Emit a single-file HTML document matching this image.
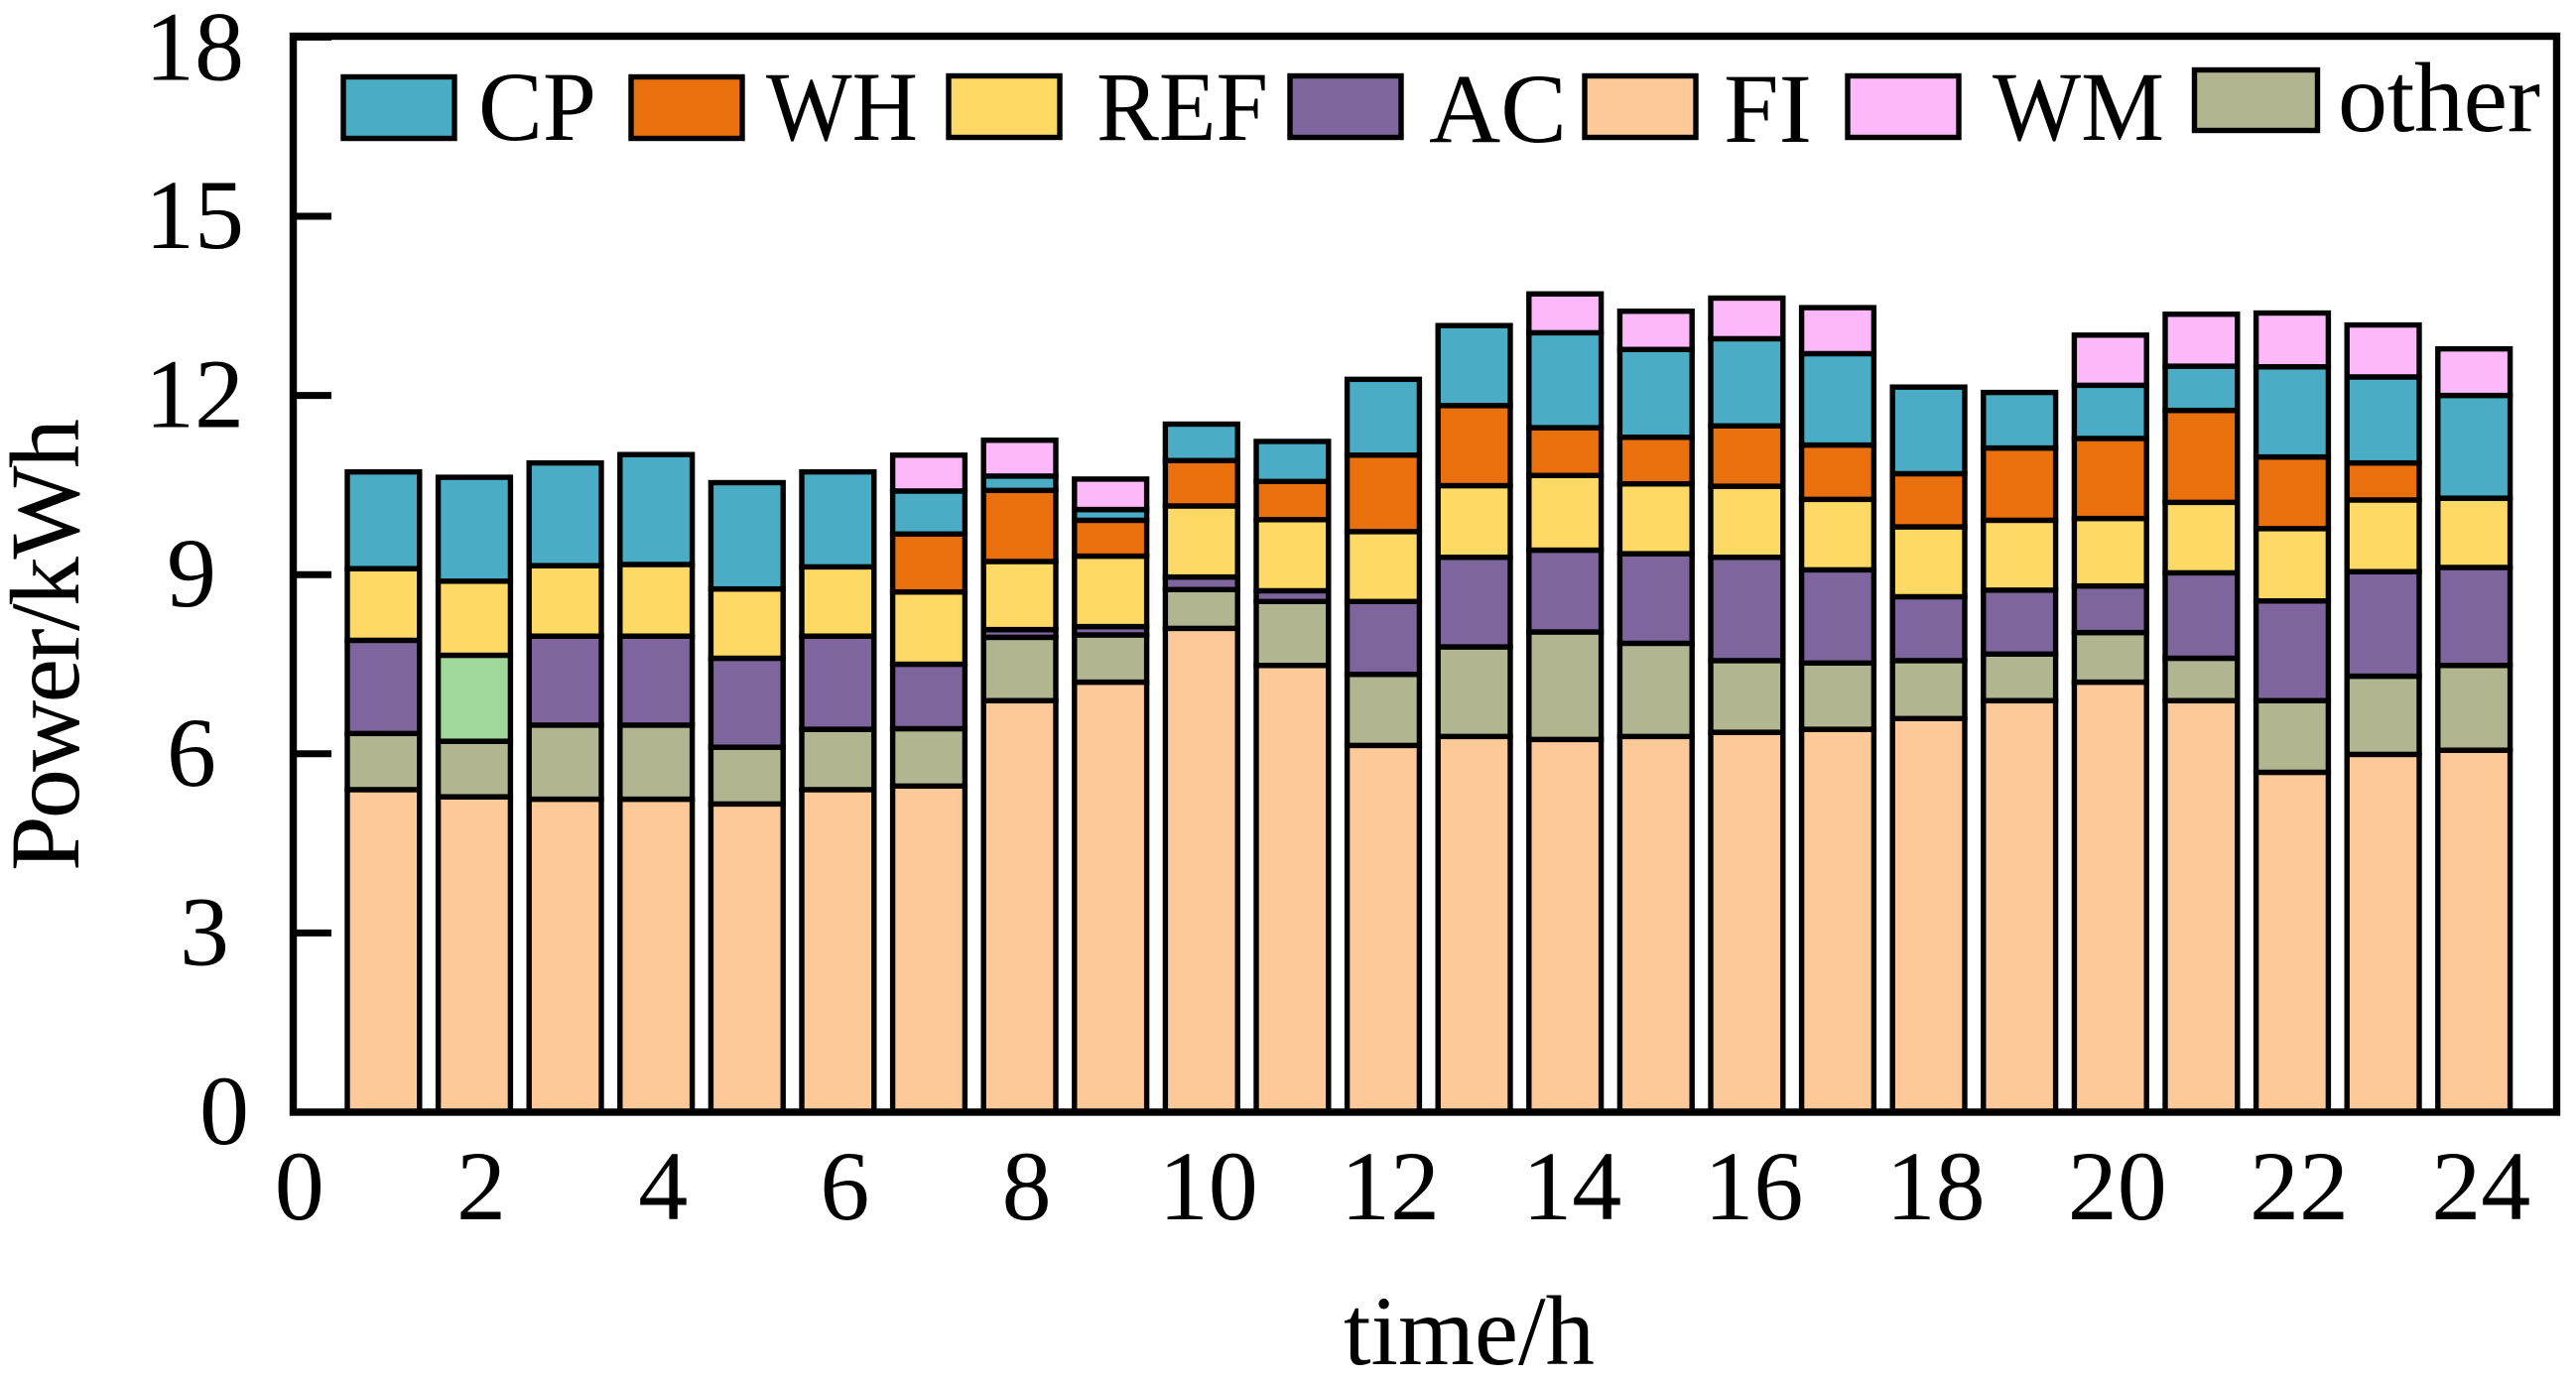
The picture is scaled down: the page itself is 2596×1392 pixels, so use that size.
<!DOCTYPE html>
<html lang="en">
<head>
<meta charset="utf-8">
<title>Power by appliance per hour</title>
<style>
  html, body { margin: 0; padding: 0; background: #fff; }
  svg { display: block; }
  text { font-family: "Liberation Serif", serif; font-size: 100px; fill: #000; }
  .seg, .key { stroke: #000; stroke-width: 5.4; }
  .s-FI { fill: #FDC998; }
  .s-other { fill: #B1B590; }
  .s-AC { fill: #7F659E; }
  .s-REF { fill: #FFD966; }
  .s-WH { fill: #EA700D; }
  .s-CP { fill: #4BACC6; }
  .s-WM { fill: #FDB8F9; }
  .s-highlight { fill: #9FD89B; }
</style>
</head>
<body>
<svg id="chart" xmlns="http://www.w3.org/2000/svg" width="2596" height="1392" viewBox="0 0 2596 1392">
  <rect x="0" y="0" width="2596" height="1392" fill="#fff"/>
  <g id="bars"></g>
  <rect x="295.5" y="36.5" width="2281" height="1084.5" fill="none" stroke="#000" stroke-width="7.4"/>
  <g id="y-ticks"></g>
  <g id="x-ticks"></g>
  <text transform="translate(79 878) rotate(-90)" textLength="456" lengthAdjust="spacing">Power/kWh</text>
  <text x="1354" y="1375" textLength="253" lengthAdjust="spacingAndGlyphs">time/h</text>
  <g>
    <g>
      <rect class="key s-CP" x="346" y="77.5" width="112" height="62"/>
      <text x="482" y="141" textLength="119" lengthAdjust="spacingAndGlyphs">CP</text>
    </g>
    <g>
      <rect class="key s-WH" x="636" y="77.5" width="112" height="62"/>
      <text x="772" y="141" textLength="153" lengthAdjust="spacingAndGlyphs">WH</text>
    </g>
    <g>
      <rect class="key s-REF" x="956" y="76.5" width="112" height="62"/>
      <text x="1105" y="141" textLength="173" lengthAdjust="spacingAndGlyphs">REF</text>
    </g>
    <g>
      <rect class="key s-AC" x="1300" y="76.5" width="112" height="62"/>
      <text x="1440" y="143">AC</text>
    </g>
    <g>
      <rect class="key s-FI" x="1597" y="76.5" width="112" height="62"/>
      <text x="1737" y="143">FI</text>
    </g>
    <g>
      <rect class="key s-WM" x="1862" y="76.5" width="112" height="62"/>
      <text x="2008" y="141" textLength="173" lengthAdjust="spacingAndGlyphs">WM</text>
    </g>
    <g>
      <rect class="key s-other" x="2211.5" y="70.5" width="124" height="61"/>
      <text x="2356" y="132" textLength="204" lengthAdjust="spacing">other</text>
    </g>
  </g>
</svg>
<script>
const hours = [1,2,3,4,5,6,7,8,9,10,11,12,13,14,15,16,17,18,19,20,21,22,23,24];
const seriesFI =    [5.40,5.28,5.24,5.24,5.16,5.40,5.46,6.89,7.20,8.10,7.48,6.14,6.29,6.24,6.29,6.36,6.41,6.59,6.89,7.20,6.89,5.69,5.99,6.06];
const seriesOther = [0.94,0.93,1.24,1.24,0.95,1.01,0.96,1.06,0.79,0.65,1.07,1.19,1.50,1.80,1.56,1.20,1.11,0.97,0.78,0.83,0.71,1.20,1.31,1.42];
const seriesAC =    [1.56,1.44,1.49,1.49,1.49,1.56,1.08,0.13,0.14,0.21,0.18,1.22,1.50,1.37,1.50,1.73,1.56,1.07,1.07,0.78,1.43,1.67,1.75,1.64];
const seriesREF =   [1.20,1.24,1.18,1.20,1.16,1.16,1.21,1.14,1.18,1.19,1.19,1.17,1.20,1.25,1.17,1.19,1.18,1.17,1.17,1.13,1.18,1.21,1.20,1.16];
const seriesWH =    [0,0,0,0,0,0,0.97,1.19,0.60,0.76,0.64,1.28,1.34,0.80,0.78,1.01,0.91,0.89,1.21,1.34,1.54,1.20,0.62,0];
const seriesCP =    [1.62,1.74,1.72,1.84,1.78,1.59,0.72,0.24,0.18,0.61,0.67,1.27,1.34,1.59,1.47,1.46,1.53,1.45,0.93,0.89,0.74,1.51,1.44,1.72];
const seriesWM =    [0,0,0,0,0,0,0.60,0.60,0.51,0,0,0,0,0.65,0.64,0.68,0.77,0,0,0.84,0.87,0.90,0.87,0.78];
const stackOrder = ['FI','other','AC','REF','WH','CP','WM'];
const stackValues = [seriesFI, seriesOther, seriesAC, seriesREF, seriesWH, seriesCP, seriesWM];
const xTickLabels = [0,2,4,6,8,10,12,14,16,18,20,22,24];
const yTickLabels = [0,3,6,9,12,15,18];
const highlightedHour = 2;

const NS = 'http://www.w3.org/2000/svg';
function xScale(t) { return 294.8 + t * 91.6; }
function yScale(v) { return 1121 - v * 60.2; }
function yLabelCenter(v) {
  if (v === 0) return 226;
  if (v === 3) return 206;
  if (v < 10) return 193;
  return 196;
}
function yLabelBaseline(v) {
  return yScale(v) + (v === 18 ? 43 : 32);
}

const barsGroup = document.getElementById('bars');
hours.forEach(function (hour, i) {
  let base = 0;
  stackValues.forEach(function (values, s) {
    const value = values[i];
    if (value <= 0) return;
    const name = stackOrder[s];
    const rect = document.createElementNS(NS, 'rect');
    rect.setAttribute('x', xScale(hour) - 36.4);
    rect.setAttribute('width', 72.8);
    rect.setAttribute('y', yScale(base + value));
    rect.setAttribute('height', yScale(base) - yScale(base + value));
    const highlighted = name === 'AC' && hour === highlightedHour;
    rect.setAttribute('class', 'seg ' + (highlighted ? 's-highlight' : 's-' + name));
    
    
    barsGroup.appendChild(rect);
    base += value;
  });
});

const yGroup = document.getElementById('y-ticks');
yTickLabels.forEach(function (v) {
  const tick = document.createElementNS(NS, 'line');
  tick.setAttribute('x1', 295);
  tick.setAttribute('x2', 334);
  tick.setAttribute('y1', yScale(v));
  tick.setAttribute('y2', yScale(v));
  tick.setAttribute('stroke', '#000');
  tick.setAttribute('stroke-width', 7);
  
  
  yGroup.appendChild(tick);

  const label = document.createElementNS(NS, 'text');
  label.setAttribute('x', yLabelCenter(v));
  label.setAttribute('y', yLabelBaseline(v));
  label.setAttribute('text-anchor', 'middle');
  
  
  label.textContent = v;
  yGroup.appendChild(label);
});

const xGroup = document.getElementById('x-ticks');
xTickLabels.forEach(function (t) {
  const label = document.createElementNS(NS, 'text');
  label.setAttribute('x', xScale(t) + 7);
  label.setAttribute('y', 1229);
  label.setAttribute('text-anchor', 'middle');
  
  
  label.textContent = t;
  xGroup.appendChild(label);
});
</script>
</body>
</html>
